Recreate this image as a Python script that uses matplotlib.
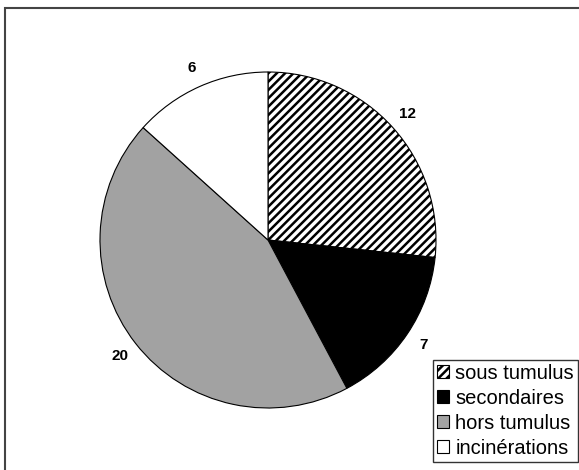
import matplotlib
matplotlib.use('Agg')
import matplotlib.pyplot as plt
from matplotlib.patches import Rectangle

labels = ["sous tumulus", "secondaires", "hors tumulus", "incinérations"]
values = [12, 7, 20, 6]
colors = ["white", "black", "#a2a2a2", "white"]
hatches = ["////", "", "", ""]

plt.rcParams['font.family'] = ['Liberation Sans', 'DejaVu Sans']
plt.rcParams['hatch.linewidth'] = 1.8

fig = plt.figure(figsize=(5.79, 4.70), dpi=100)
ax = fig.add_axes([0, 0, 1, 1])

wedges, texts = ax.pie(values, labels=[str(v) for v in values], colors=colors,
                       startangle=90, counterclock=False, center=(268, 230), radius=168,
                       labeldistance=1.12, frame=True,
                       wedgeprops=dict(edgecolor='black', linewidth=0.8),
                       textprops=dict(fontsize=11, fontweight='bold', ha='center', va='center'))
for w, h in zip(wedges, hatches):
    w.set_hatch(h)
ax.set_xlim(0, 579)
ax.set_ylim(0, 470)
ax.set_aspect('equal')
ax.axis('off')

# outer frame (right and bottom edges fall outside the picture)
fig.patches.append(Rectangle((5 / 579, -0.1), 1.2, 462 / 470 + 0.1, transform=fig.transFigure,
                             fill=False, edgecolor='#444444', linewidth=1.5))

leg = ax.legend(wedges, labels, loc='lower right', bbox_to_anchor=(578 / 579, 8 / 470),
                bbox_transform=fig.transFigure, fontsize=14.5, frameon=True, fancybox=False,
                handlelength=0.6, handleheight=0.6, handletextpad=0.3, labelspacing=0.3,
                borderpad=0.2, borderaxespad=0)
leg.get_frame().set_edgecolor('black')
leg.get_frame().set_linewidth(1.0)

plt.savefig('out.png', dpi=100)
